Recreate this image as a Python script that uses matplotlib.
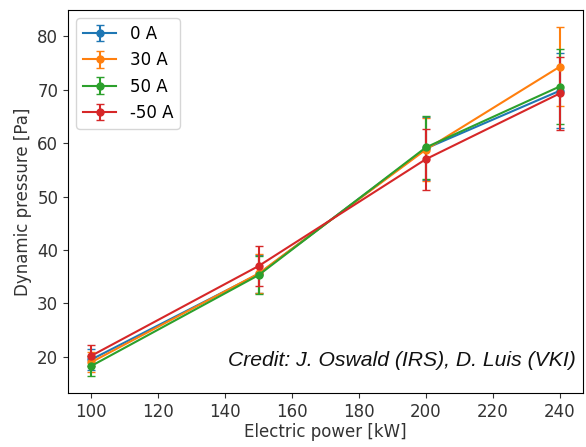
import matplotlib.pyplot as plt

# Electric power settings [kW]
power = [100, 150, 200, 240]

# Dynamic pressure [Pa] per coil current, with measurement uncertainty
p_0a = [19.5, 35.5, 59.0, 69.8]
e_0a = [1.9, 3.5, 5.9, 7.0]
p_30a = [19.0, 35.6, 58.8, 74.3]
e_30a = [1.9, 3.6, 5.9, 7.4]
p_50a = [18.3, 35.3, 59.2, 70.6]
e_50a = [1.8, 3.5, 5.9, 7.0]
p_m50a = [20.2, 37.0, 57.0, 69.3]
e_m50a = [2.0, 3.7, 5.7, 6.9]

labels = ["0 A", "30 A", "50 A", "-50 A"]
colors = ["#1f77b4", "#ff7f0e", "#2ca02c", "#d62728"]

fig = plt.figure(figsize=(5.86, 4.47), dpi=100)
ax = fig.add_axes([0.116, 0.121, 0.879, 0.857])

for vals, errs, lab, col in zip([p_0a, p_30a, p_50a, p_m50a],
                                [e_0a, e_30a, e_50a, e_m50a], labels, colors):
    ax.errorbar(power, vals, yerr=errs, color=col, marker="o", markersize=5,
                capsize=3, linewidth=1.5, label=lab)

ax.set_xticks([100, 120, 140, 160, 180, 200, 220, 240])
ax.set_yticks([20, 30, 40, 50, 60, 70, 80])
ax.tick_params(labelsize=12, labelcolor="#333333", color="#333333")
ax.set_xlabel("Electric power [kW]", fontsize=12, color="#333333", labelpad=2)
ax.set_ylabel("Dynamic pressure [Pa]", fontsize=12, color="#333333")
ax.legend(loc="upper left", fontsize=12)

ax.text(0.985, 0.06, "Credit: J. Oswald (IRS), D. Luis (VKI)", transform=ax.transAxes,
        ha="right", va="bottom", fontsize=15.2, style="italic",
        family="Liberation Sans", color="#111111")

fig.savefig("out.png", dpi=100)
